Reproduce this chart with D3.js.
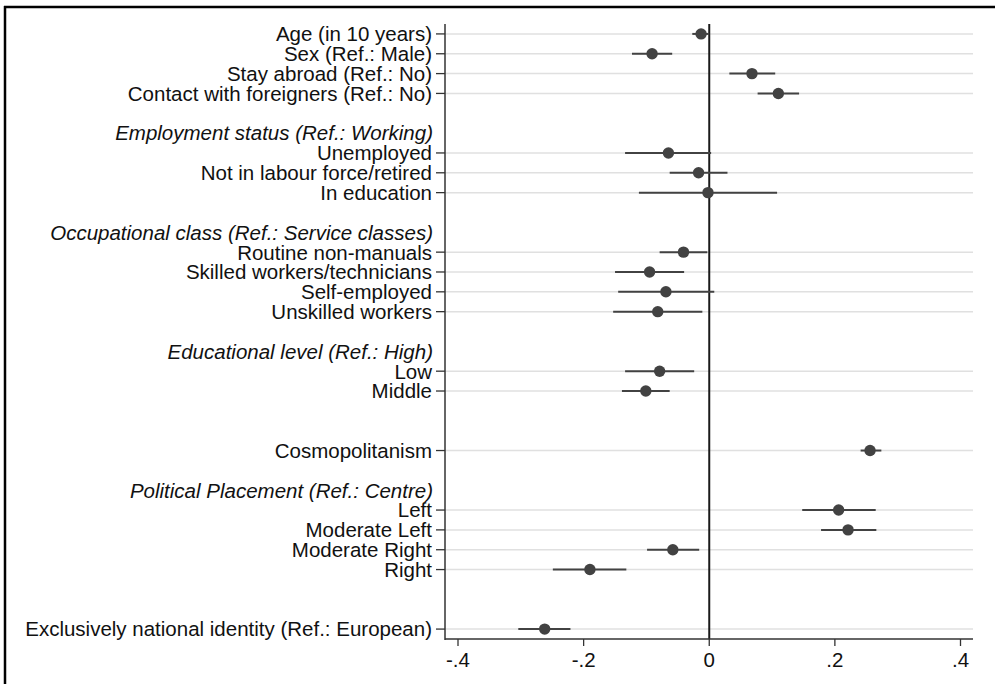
<!DOCTYPE html>
<html>
<head>
<meta charset="utf-8">
<script src="https://cdn.jsdelivr.net/npm/d3@7"></script>
<style>
  html, body { margin: 0; padding: 0; background: #fff; }
  svg { display: block; }
</style>
</head>
<body>
<svg id="chart" width="995" height="684"></svg>
<script>
// Row layout: coefficient terms, italic group headers and empty gap rows (null)
const rows = [
  "Age (in 10 years)", "Sex (Ref.: Male)", "Stay abroad (Ref.: No)", "Contact with foreigners (Ref.: No)",
  null,
  "Employment status (Ref.: Working)",
  "Unemployed", "Not in labour force/retired", "In education",
  null,
  "Occupational class (Ref.: Service classes)",
  "Routine non-manuals", "Skilled workers/technicians", "Self-employed", "Unskilled workers",
  null,
  "Educational level (Ref.: High)",
  "Low", "Middle",
  null, null,
  "Cosmopolitanism",
  null,
  "Political Placement (Ref.: Centre)",
  "Left", "Moderate Left", "Moderate Right", "Right",
  null, null,
  "Exclusively national identity (Ref.: European)"
];
const headers = [
  "Employment status (Ref.: Working)",
  "Occupational class (Ref.: Service classes)",
  "Educational level (Ref.: High)",
  "Political Placement (Ref.: Centre)"
];
const terms = [
  "Age (in 10 years)", "Sex (Ref.: Male)", "Stay abroad (Ref.: No)", "Contact with foreigners (Ref.: No)",
  "Unemployed", "Not in labour force/retired", "In education",
  "Routine non-manuals", "Skilled workers/technicians", "Self-employed", "Unskilled workers",
  "Low", "Middle", "Cosmopolitanism",
  "Left", "Moderate Left", "Moderate Right", "Right",
  "Exclusively national identity (Ref.: European)"
];
const estimates = [-0.013, -0.091, 0.068, 0.110, -0.065, -0.017, -0.002, -0.041, -0.095, -0.069, -0.082,
  -0.079, -0.101, 0.256, 0.206, 0.221, -0.058, -0.190, -0.262];
const ciLow = [-0.027, -0.123, 0.032, 0.077, -0.134, -0.063, -0.112, -0.079, -0.150, -0.145, -0.153,
  -0.134, -0.139, 0.241, 0.148, 0.178, -0.099, -0.249, -0.304];
const ciHigh = [0.000, -0.059, 0.105, 0.143, 0.003, 0.029, 0.108, -0.003, -0.040, 0.008, -0.011,
  -0.024, -0.063, 0.274, 0.265, 0.266, -0.016, -0.132, -0.221];
const xTicks = [-0.4, -0.2, 0, 0.2, 0.4];
const xTickLabels = ["-.4", "-.2", "0", ".2", ".4"];

const svg = d3.select("#chart");
const plotLeft = 445, plotRight = 973, plotTop = 24, plotBottom = 639;
const font = "'Liberation Sans', Arial, Helvetica, sans-serif";
const fontSize = 20.5;

// outer frame (cropped: only top and left edges visible)
svg.append("line").attr("x1", 4).attr("x2", 995).attr("y1", 7).attr("y2", 7)
  .attr("stroke", "#000").attr("stroke-width", 2.5);
svg.append("line").attr("x1", 5).attr("x2", 5).attr("y1", 6).attr("y2", 684)
  .attr("stroke", "#000").attr("stroke-width", 2.5);

const x = d3.scaleLinear().domain([-0.4207, 0.4199]).range([plotLeft, plotRight]);
const y = d3.scalePoint().domain(d3.range(rows.length)).range([plotTop, plotBottom]).padding(0.5);

const rowIndex = new Map(rows.map((r, i) => [r, i]));
const data = terms.map((t, i) => ({ term: t, est: estimates[i], lo: ciLow[i], hi: ciHigh[i], yi: rowIndex.get(t) }));

// gridlines at each term
svg.append("g").selectAll("line").data(data).join("line")
  .attr("x1", plotLeft).attr("x2", plotRight)
  .attr("y1", d => y(d.yi)).attr("y2", d => y(d.yi))
  .attr("stroke", "#e0e0e0").attr("stroke-width", 1.5);

// zero reference line
svg.append("line").attr("x1", x(0)).attr("x2", x(0)).attr("y1", plotTop).attr("y2", plotBottom)
  .attr("stroke", "#1a1a1a").attr("stroke-width", 2);

// left axis
svg.append("line").attr("x1", plotLeft).attr("x2", plotLeft).attr("y1", plotTop).attr("y2", plotBottom + 1)
  .attr("stroke", "#333").attr("stroke-width", 1.5);
svg.append("g").selectAll("line").data(data).join("line")
  .attr("x1", plotLeft - 9).attr("x2", plotLeft)
  .attr("y1", d => y(d.yi)).attr("y2", d => y(d.yi))
  .attr("stroke", "#333").attr("stroke-width", 1.3);

// term labels
svg.append("g").selectAll("text").data(data).join("text")
  .attr("x", plotLeft - 13).attr("y", d => y(d.yi))
  .attr("dy", "0.36em").attr("text-anchor", "end")
  .attr("font-family", font).attr("font-size", fontSize).attr("fill", "#111")
  .text(d => d.term);

// headers
svg.append("g").selectAll("text").data(headers).join("text")
  .attr("x", plotLeft - 12).attr("y", d => y(rowIndex.get(d)))
  .attr("dy", "0.36em").attr("text-anchor", "end")
  .attr("font-family", font).attr("font-size", fontSize).attr("font-style", "italic").attr("fill", "#111")
  .text(d => d);

// bottom axis
svg.append("line").attr("x1", plotLeft).attr("x2", plotRight).attr("y1", plotBottom).attr("y2", plotBottom)
  .attr("stroke", "#333").attr("stroke-width", 1.5);
svg.append("g").selectAll("line").data(xTicks).join("line")
  .attr("x1", d => x(d)).attr("x2", d => x(d)).attr("y1", plotBottom).attr("y2", plotBottom + 7)
  .attr("stroke", "#333").attr("stroke-width", 1.3);
svg.append("g").selectAll("text").data(xTicks).join("text")
  .attr("x", d => x(d)).attr("y", plotBottom + 21).attr("dy", "0.36em")
  .attr("text-anchor", "middle")
  .attr("font-family", font).attr("font-size", fontSize).attr("fill", "#111")
  .text((d, i) => xTickLabels[i]);

// confidence intervals
svg.append("g").selectAll("line").data(data).join("line")
  .attr("x1", d => x(d.lo)).attr("x2", d => x(d.hi))
  .attr("y1", d => y(d.yi)).attr("y2", d => y(d.yi))
  .attr("stroke", "#424242").attr("stroke-width", 2);

// point estimates
svg.append("g").selectAll("circle").data(data).join("circle")
  .attr("cx", d => x(d.est)).attr("cy", d => y(d.yi)).attr("r", 5.7)
  .attr("fill", "#424242");
</script>
</body>
</html>
